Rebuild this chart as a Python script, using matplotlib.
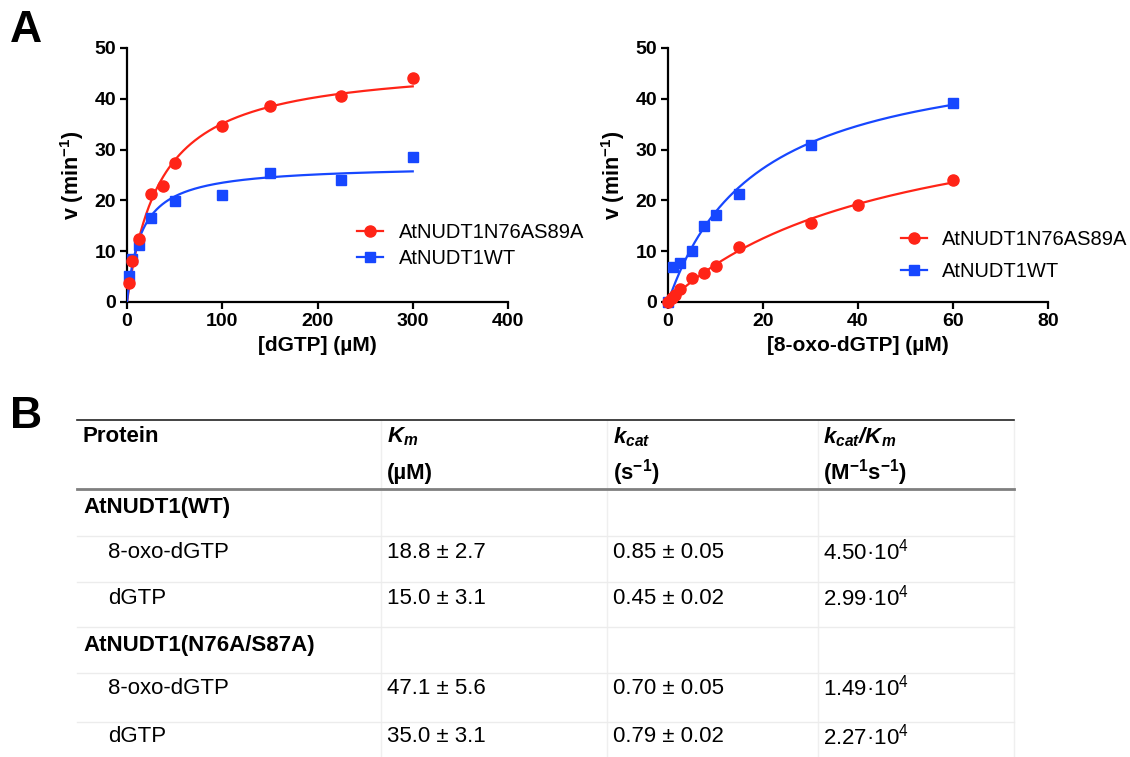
import numpy as np
import matplotlib
matplotlib.use("Agg")
import matplotlib.pyplot as plt
from matplotlib.lines import Line2D

plt.rcParams['font.family'] = ['Liberation Sans', 'DejaVu Sans']
plt.rcParams['mathtext.fontset'] = 'custom'
plt.rcParams['mathtext.rm'] = 'Liberation Sans'
plt.rcParams['mathtext.it'] = 'Liberation Sans:italic'
plt.rcParams['mathtext.bf'] = 'Liberation Sans:bold'
plt.rcParams['mathtext.bfit'] = 'Liberation Sans:italic:bold'

# ---------------------------------------------------------------
# data
# panel A, left: dGTP
dgtp_mut_conc = [2.5, 5, 12.5, 25, 37.5, 50, 100, 150, 225, 300]
dgtp_mut_v = [3.8, 8.1, 12.4, 21.3, 22.8, 27.3, 34.6, 38.6, 40.5, 44.0]
dgtp_wt_conc = [2.5, 5, 12.5, 25, 50, 100, 150, 225, 300]
dgtp_wt_v = [5.2, 8.5, 11.3, 16.6, 19.8, 21.0, 25.4, 24.0, 28.5]

# panel A, right: 8-oxo-dGTP
oxo_mut_conc = [0, 0.8, 1.5, 2.5, 5, 7.5, 10, 15, 30, 40, 60]
oxo_mut_v = [0, 0.8, 1.4, 2.5, 4.8, 5.7, 7.1, 10.9, 15.5, 19.0, 24.1]
oxo_wt_conc = [0, 1, 2.5, 5, 7.5, 10, 15, 30, 60]
oxo_wt_v = [0, 6.9, 7.6, 10.0, 15.0, 17.2, 21.2, 30.9, 39.1]

series_names = ['AtNUDT1N76AS89A', 'AtNUDT1WT']

# panel B: kinetic parameters  [protein][substrate]
proteins = ['AtNUDT1(WT)', 'AtNUDT1(N76A/S87A)']
substrates = ['8-oxo-dGTP', 'dGTP']
km = [[18.8, 15.0], [47.1, 35.0]]
km_err = [[2.7, 3.1], [5.6, 3.1]]
kcat = [[0.85, 0.45], [0.70, 0.79]]
kcat_err = [[0.05, 0.02], [0.05, 0.02]]
eff = [[4.50, 2.99], [1.49, 2.27]]   # x 10^4 M-1 s-1

red = '#FF2417'
blue = '#1747FF'

W, H = 1130, 757
fig = plt.figure(figsize=(W/100, H/100), dpi=100)

# background axes in pixel units for the table and panel letters
tab = fig.add_axes([0, 0, 1, 1])
tab.set_xlim(0, W)
tab.set_ylim(H, 0)
tab.axis('off')

def px_axes(x0, y0, x1, y1):
    return fig.add_axes([x0/W, 1 - y1/H, (x1-x0)/W, (y1-y0)/H])

axL = px_axes(127, 48, 508, 302)
axR = px_axes(668, 48, 1048, 302)

def mm(s, vmax, k):
    return vmax*s/(k + s)

def style(ax, xmax, xstep, xlabel):
    ax.set_xlim(0, xmax)
    ax.set_ylim(0, 50)
    ax.set_xticks(np.arange(0, xmax + 1, xstep))
    ax.set_yticks(np.arange(0, 51, 10))
    for s in ['top', 'right']:
        ax.spines[s].set_visible(False)
    for s in ['left', 'bottom']:
        ax.spines[s].set_linewidth(1.6)
    ax.tick_params(direction='out', length=5, width=1.6, labelsize=14, pad=3)
    for lab in ax.get_xticklabels() + ax.get_yticklabels():
        lab.set_fontweight('bold')
    ax.set_xlabel(xlabel, fontsize=15, fontweight='bold', labelpad=4)
    ax.set_ylabel(r'$\mathbf{v\ (min^{-1})}$', fontsize=15.5, labelpad=6)
    ax.patch.set_alpha(0)

# left: dGTP  (substrate index 1)
sx = np.linspace(0, max(dgtp_mut_conc), 300)
axL.plot(sx, mm(sx, kcat[1][1]*60, km[1][1]), color=red, lw=1.6, zorder=3)
axL.plot(sx, mm(sx, kcat[0][1]*60, km[0][1]), color=blue, lw=1.6, zorder=3)
axL.plot(dgtp_wt_conc, dgtp_wt_v, 's', color=blue, ms=7.5, zorder=4, clip_on=False)
axL.plot(dgtp_mut_conc, dgtp_mut_v, 'o', color=red, ms=8, zorder=5, clip_on=False)
style(axL, 400, 100, '[dGTP] (µM)')

# right: 8-oxo-dGTP (substrate index 0)
sx = np.linspace(0, max(oxo_wt_conc), 300)
axR.plot(sx, mm(sx, kcat[1][0]*60, km[1][0]), color=red, lw=1.6, zorder=3)
axR.plot(sx, mm(sx, kcat[0][0]*60, km[0][0]), color=blue, lw=1.6, zorder=3)
axR.plot(oxo_wt_conc, oxo_wt_v, 's', color=blue, ms=7.5, zorder=4, clip_on=False)
axR.plot(oxo_mut_conc, oxo_mut_v, 'o', color=red, ms=8, zorder=5, clip_on=False)
style(axR, 80, 20, '[8-oxo-dGTP] (µM)')

handles = [Line2D([], [], color=red, lw=1.6, marker='o', ms=8),
           Line2D([], [], color=blue, lw=1.6, marker='s', ms=7.5)]
axL.legend(handles, series_names, loc='center left', bbox_to_anchor=(0.604, 0.222),
           frameon=False, fontsize=14.5, handlelength=1.3, handletextpad=0.8,
           labelspacing=0.35, borderpad=0, borderaxespad=0, numpoints=1)
axR.legend(handles, series_names, loc='center left', bbox_to_anchor=(0.613, 0.183),
           frameon=False, fontsize=14.5, handlelength=1.3, handletextpad=0.75,
           labelspacing=0.68, borderpad=0, borderaxespad=0, numpoints=1)

# panel letters
tab.text(10, 31, 'A', fontsize=32, fontweight='bold', va='center', ha='left')
tab.text(10, 416, 'B', fontsize=32, fontweight='bold', va='center', ha='left')

# ---------------------------------------------------------------
# table
tx0, tx1 = 77, 1014
col_x = [381, 607, 818, 1014]
tab.plot([tx0, tx1], [420, 420], color='#222222', lw=1.2)
for x in col_x:
    tab.plot([x, x], [421, H], color='#efefef', lw=1, zorder=0)
for y in [536, 582, 627, 673, 722]:
    tab.plot([tx0, tx1], [y, y], color='#ececec', lw=1, zorder=0)
tab.plot([tx0, tx1], [489, 489], color='#7f7f7f', lw=2)

fs = 16
text_x = [83, 387, 613, 823]
tab.text(text_x[0], 437, 'Protein', fontsize=fs, fontweight='bold', va='center')
tab.text(text_x[1], 437, r'$\mathbfit{K_m}$', fontsize=fs, va='center')
tab.text(text_x[1], 473, '(µM)', fontsize=fs, fontweight='bold', va='center')
tab.text(text_x[2], 437, r'$\mathbfit{k_{cat}}$', fontsize=fs, va='center')
tab.text(text_x[2], 473, r'$\mathbf{(s^{-1})}$', fontsize=fs, va='center')
tab.text(text_x[3], 437, r'$\mathbfit{k_{cat}/K_m}$', fontsize=fs, va='center')
tab.text(text_x[3], 473, r'$\mathbf{(M^{-1}s^{-1})}$', fontsize=fs, va='center')

group_y = [507, 645]
row_y = [[552, 598], [688, 737]]
for i, prot in enumerate(proteins):
    tab.text(text_x[0], group_y[i], prot, fontsize=fs, fontweight='bold', va='center')
    for j, sub in enumerate(substrates):
        y = row_y[i][j]
        tab.text(108, y, sub, fontsize=fs, va='center')
        tab.text(text_x[1], y, f'{km[i][j]:.1f} ± {km_err[i][j]:.1f}', fontsize=fs, va='center')
        tab.text(text_x[2], y, f'{kcat[i][j]:.2f} ± {kcat_err[i][j]:.2f}', fontsize=fs, va='center')
        tab.text(text_x[3], y, f'{eff[i][j]:.2f}·10$^4$', fontsize=fs, va='center')

fig.savefig('out.png', dpi=100)
